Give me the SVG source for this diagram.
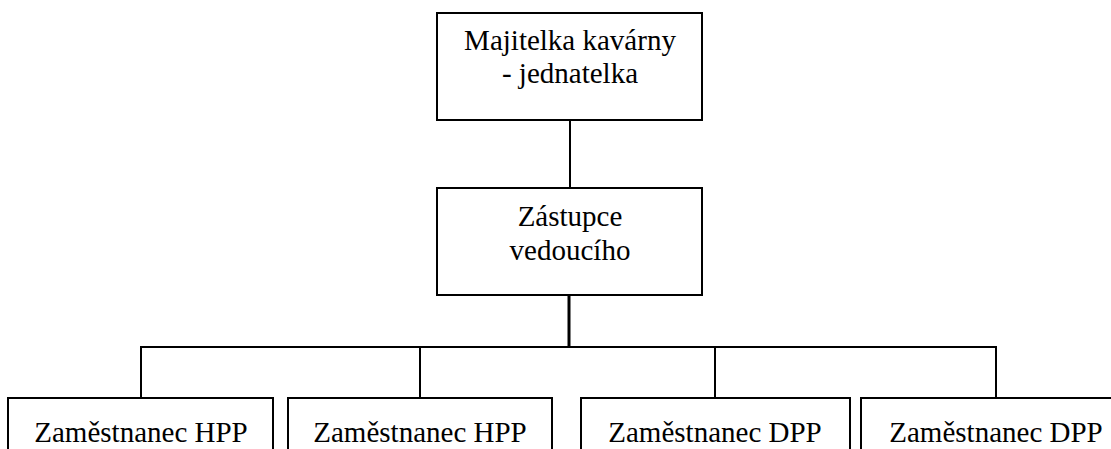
<svg xmlns="http://www.w3.org/2000/svg" width="1111" height="449" viewBox="0 0 1111 449">
<style>
.box{fill:#fff;stroke:#000;stroke-width:2}
.t{font-family:'Liberation Serif',serif;font-size:29px;fill:#000;text-anchor:middle}
.c{fill:none;stroke:#000;stroke-width:2}
.c2{fill:none;stroke:#000;stroke-width:3}
</style>
<rect width="1111" height="449" fill="#fff"/>
<g id="connectors">
<line class="c" x1="570" y1="120" x2="570" y2="188"/>
<line class="c2" x1="569" y1="295" x2="569" y2="347"/>
<polyline class="c" points="141,398 141,347 996,347 996,398"/>
<line class="c" x1="420" y1="347" x2="420" y2="398"/>
<line class="c" x1="715" y1="347" x2="715" y2="398"/>
</g>
<g id="n-majitelka">
<rect class="box" x="437" y="13" width="265" height="107"/>
<text class="t" x="570" y="50" font-family="Liberation Serif">Majitelka kavárny</text>
<text class="t" x="570" y="83" font-family="Liberation Serif">- jednatelka</text>
</g>
<g id="n-zastupce">
<rect class="box" x="437" y="188" width="265" height="107"/>
<text class="t" x="570" y="226" font-family="Liberation Serif">Zástupce</text>
<text class="t" x="570" y="260" font-family="Liberation Serif">vedoucího</text>
</g>
<g id="n-hpp1">
<rect class="box" x="8" y="398" width="265" height="60"/>
<text class="t" x="141" y="442" font-family="Liberation Serif">Zaměstnanec HPP</text>
</g>
<g id="n-hpp2">
<rect class="box" x="288" y="398" width="264" height="60"/>
<text class="t" x="420" y="442" font-family="Liberation Serif">Zaměstnanec HPP</text>
</g>
<g id="n-dpp1">
<rect class="box" x="581" y="398" width="269" height="60"/>
<text class="t" x="715" y="442" font-family="Liberation Serif">Zaměstnanec DPP</text>
</g>
<g id="n-dpp2">
<rect class="box" x="861" y="398" width="270" height="60"/>
<text class="t" x="996" y="442" font-family="Liberation Serif">Zaměstnanec DPP</text>
</g>
</svg>
